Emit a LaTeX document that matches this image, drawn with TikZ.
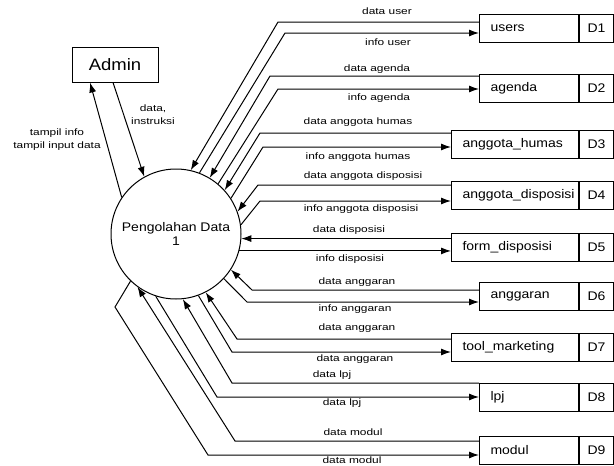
\documentclass[tikz,border=0pt]{standalone}
\usepackage{fontspec}
\setmainfont{Liberation Sans}[FakeStretch=1.12]
\newfontfamily\lblfont{Liberation Sans}[FakeStretch=1.28]
\usetikzlibrary{arrows.meta,positioning}

\begin{document}
\begin{tikzpicture}[x=1pt,y=-1pt,
    flow/.style={line width=1pt,-{Latex[length=10pt,width=7pt]}},
    store/.style={draw,line width=1pt,anchor=east,minimum height=28pt,
      inner xsep=11pt,inner ysep=0pt,text width=#1,align=left,
      font=\fontsize{12.5}{14}\selectfont},
    sid/.style={draw,line width=1pt,minimum height=28pt,minimum width=34pt,
      inner sep=0pt,font=\fontsize{12.5}{14}\selectfont},
    lbl/.style={inner sep=0pt,align=center,font=\lblfont\fontsize{9.3}{12.8}\selectfont}]
  \useasboundingbox (0,0) rectangle (614,466);

  \path
  (115,64.5) node[draw,line width=1pt,minimum width=86pt,minimum height=35pt,
    font=\fontsize{16.5}{18}\selectfont] (admin) {Admin}
  (176,234) node[draw,circle,line width=1pt,minimum size=130pt,inner sep=0pt,
    align=center,font=\fontsize{12.5}{14}\selectfont] (proc) {Pengolahan Data\\1}
  (579,28) node[store=77pt] (users) {users}
  (579,88) node[store=77pt] (agenda) {agenda}
  (579,144) node[store=105pt] (humas) {anggota\_humas}
  (579,195.5) node[store=105pt] (adisp) {anggota\_disposisi}
  (579,247) node[store=105pt] (fdisp) {form\_disposisi}
  (579,296) node[store=77pt] (anggaran) {anggaran}
  (579,347.5) node[store=105pt] (tool) {tool\_marketing}
  (579,397.5) node[store=77pt] (lpj) {lpj}
  (579,450.5) node[store=77pt] (modul) {modul}
  ;
  \node[sid,right=0pt of users] (d1) {D1};
  \node[sid,right=0pt of agenda] (d2) {D2};
  \node[sid,right=0pt of humas] (d3) {D3};
  \node[sid,right=0pt of adisp] (d4) {D4};
  \node[sid,right=0pt of fdisp] (d5) {D5};
  \node[sid,right=0pt of anggaran] (d6) {D6};
  \node[sid,right=0pt of tool] (d7) {D7};
  \node[sid,right=0pt of lpj] (d8) {D8};
  \node[sid,right=0pt of modul] (d9) {D9};

  \path
  (57,139.5) node[lbl] (tampil) {tampil info\\tampil input data}
  (153,114.5) node[lbl] (instr) {data,\\instruksi}
  (387,11) node[lbl] (l1a) {data user}
  (388,42) node[lbl] (l1b) {info user}
  (377,69) node[lbl] (l2a) {data agenda}
  (379,98) node[lbl] (l2b) {info agenda}
  (358,122) node[lbl] (l3a) {data anggota humas}
  (358,157) node[lbl] (l3b) {info anggota humas}
  (363,176) node[lbl] (l4a) {data anggota disposisi}
  (361,209) node[lbl] (l4b) {info anggota disposisi}
  (349,230) node[lbl] (l5a) {data disposisi}
  (350,259) node[lbl] (l5b) {info disposisi}
  (357,282) node[lbl] (l6a) {data anggaran}
  (355,309) node[lbl] (l6b) {info anggaran}
  (357,328) node[lbl] (l7a) {data anggaran}
  (355,359) node[lbl] (l7b) {data anggaran}
  (332,375) node[lbl] (l8a) {data lpj}
  (342,403) node[lbl] (l8b) {data lpj}
  (353,432) node[lbl] (l9a) {data modul}
  (352,460) node[lbl] (l9b) {data modul}
  ;

  \draw[flow] (proc.146) -- (admin.south -| 90,0);
  \draw[flow] (admin.south -| 113,0) -- (proc.119);

  \draw[flow] (users.west |- 0,22) -- (278,22) -- (proc.77);
  \draw[flow] (proc.69) -- (285,33) -- (users.west |- 0,33);
  \draw[flow] (agenda.west |- 0,76) -- (270,76) -- (proc.59);
  \draw[flow] (proc.50) -- (278,89) -- (agenda.west |- 0,89);
  \draw[flow] (humas.west |- 0,133) -- (260,133) -- (proc.42);
  \draw[flow] (proc.33) -- (263,147) -- (humas.west |- 0,147);
  \draw[flow] (adisp.west |- 0,185) -- (258,185) -- (proc.20);
  \draw[flow] (proc.8) -- (260,201) -- (adisp.west |- 0,201);
  \draw[flow] (fdisp.west |- proc.-4) -- (proc.-4);
  \draw[flow] (proc.-15) -- (fdisp.west |- proc.-15);
  \draw[flow] (anggaran.west |- 0,290) -- (252,290) -- (proc.-33);
  \draw[flow] (proc.-43) -- (247,302) -- (anggaran.west |- 0,302);
  \draw[flow] (tool.west |- 0,339) -- (237,339) -- (proc.-63);
  \draw[flow] (proc.-70) -- (232,352) -- (tool.west |- 0,352);
  \draw[flow] (lpj.west |- 0,383) -- (232,383) -- (proc.-84);
  \draw[flow] (proc.-108) -- (217,397) -- (lpj.west |- 0,397);
  \draw[flow] (modul.west |- 0,441) -- (235,441) -- (proc.-126);
  \draw[flow] (proc.-134) -- (115,307) -- (208,455) -- (modul.west |- 0,455);
\end{tikzpicture}
\end{document}
